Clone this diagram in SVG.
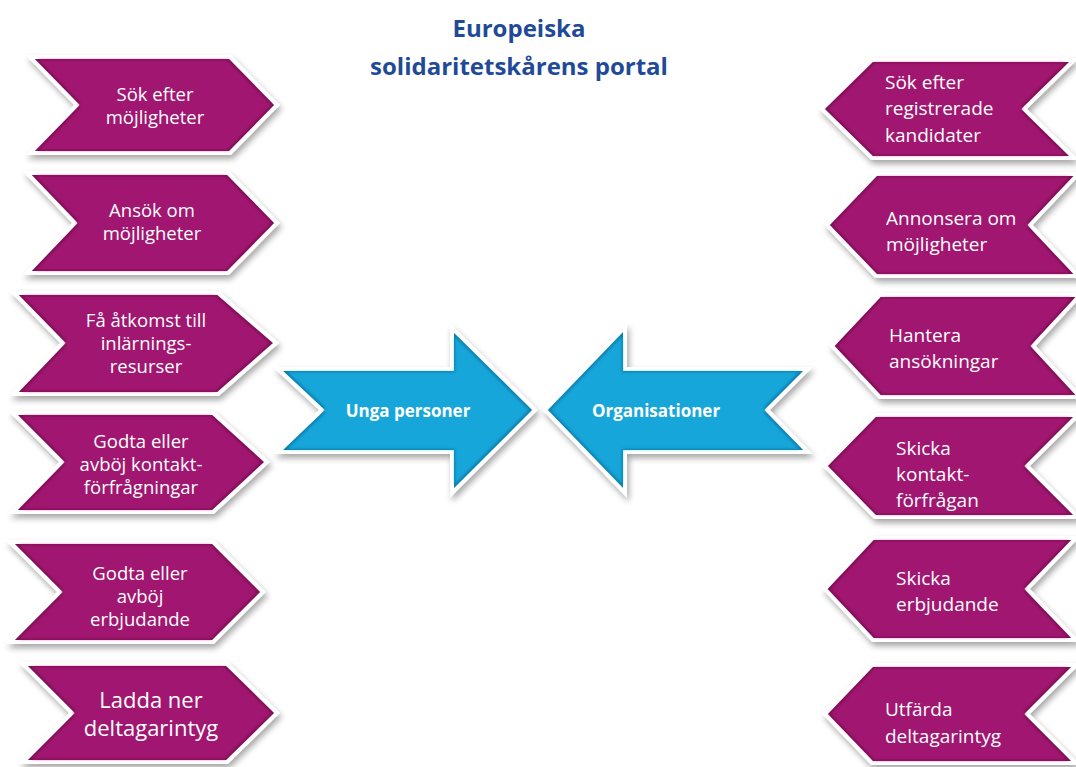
<svg xmlns="http://www.w3.org/2000/svg" width="1076" height="767" viewBox="0 0 1076 767">
<defs>
<style>
.rim-p{fill:#7f0f58;stroke:#ffffff;stroke-width:4;stroke-linejoin:miter;filter:url(#shadow)}
.face-p{fill:#a1176f;filter:url(#inset)}
.rim-b{fill:#0c7fae;stroke:#ffffff;stroke-width:4;stroke-linejoin:miter;filter:url(#shadow)}
.face-b{fill:#15a6da;filter:url(#inset)}
.lbl{font-family:"Open Sans","Liberation Sans",sans-serif;font-size:18.5px;fill:#ffffff}
.lblc{text-anchor:middle}
.rl{font-size:19px}
.big{font-size:22px}
.bl{font-family:"Open Sans","Liberation Sans",sans-serif;font-size:17px;font-weight:bold;fill:#ffffff;text-anchor:middle}
.title{font-family:"Open Sans","Liberation Sans",sans-serif;font-size:24px;font-weight:bold;fill:#1f4a97;text-anchor:middle}
</style>
<filter id="shadow" x="-15%" y="-20%" width="135%" height="150%">
<feGaussianBlur in="SourceAlpha" stdDeviation="3"/>
<feOffset dx="2" dy="4" result="o"/>
<feComponentTransfer in="o" result="s"><feFuncA type="linear" slope="0.35"/></feComponentTransfer>
<feMerge><feMergeNode in="s"/><feMergeNode in="SourceGraphic"/></feMerge>
</filter>
<filter id="inset" x="-5%" y="-5%" width="110%" height="110%">
<feMorphology in="SourceGraphic" operator="erode" radius="3" result="e"/>
<feGaussianBlur in="e" stdDeviation="1.5"/>
</filter>
</defs>
<rect width="1076" height="767" fill="#ffffff"/>

<g id="title">
<text class="title" x="519" y="37">Europeiska</text>
<text class="title" x="519" y="75">solidaritetskårens portal</text>
</g>

<g id="connectors"></g>

<g id="L1">
<polygon class="rim-p" points="30,57 230,57 277,105 230,153 30,153 77,105"/>
<polygon class="face-p" points="30,57 230,57 277,105 230,153 30,153 77,105"/>
<text class="lbl lblc" x="155" y="101">Sök efter</text>
<text class="lbl lblc" x="155" y="124">möjligheter</text>
</g>
<g id="L2">
<polygon class="rim-p" points="27,173 228,173 277,223 228,273 27,273 75,223"/>
<polygon class="face-p" points="27,173 228,173 277,223 228,273 27,273 75,223"/>
<text class="lbl lblc" x="152" y="217">Ansök om</text>
<text class="lbl lblc" x="152" y="240">möjligheter</text>
</g>
<g id="L3">
<polygon class="rim-p" points="14,293 218,293 276,343 218,394 14,394 63,343"/>
<polygon class="face-p" points="14,293 218,293 276,343 218,394 14,394 63,343"/>
<text class="lbl lblc" x="146" y="327">Få åtkomst till</text>
<text class="lbl lblc" x="146" y="350">inlärnings-</text>
<text class="lbl lblc" x="146" y="373">resurser</text>
</g>
<g id="L4">
<polygon class="rim-p" points="13,413 213,413 267,462 213,512 13,512 62,462"/>
<polygon class="face-p" points="13,413 213,413 267,462 213,512 13,512 62,462"/>
<text class="lbl lblc" x="141" y="448">Godta eller</text>
<text class="lbl lblc" x="141" y="471">avböj kontakt-</text>
<text class="lbl lblc" x="141" y="494">förfrågningar</text>
</g>
<g id="L5">
<polygon class="rim-p" points="10,542 213,542 263,592 213,642 10,642 60,592"/>
<polygon class="face-p" points="10,542 213,542 263,592 213,642 10,642 60,592"/>
<text class="lbl lblc" x="140" y="580">Godta eller</text>
<text class="lbl lblc" x="140" y="603">avböj</text>
<text class="lbl lblc" x="140" y="626">erbjudande</text>
</g>
<g id="L6">
<polygon class="rim-p" points="23,664 227,664 277,713 227,762 23,762 72,713"/>
<polygon class="face-p" points="23,664 227,664 277,713 227,762 23,762 72,713"/>
<text class="lbl lblc big" x="151" y="708">Ladda ner</text>
<text class="lbl lblc big" x="151" y="736">deltagarintyg</text>
</g>

<g id="R1">
<polygon class="rim-p" points="822,109 872,60 1074,60 1024,109 1074,158 872,158"/>
<polygon class="face-p" points="822,109 872,60 1074,60 1024,109 1074,158 872,158"/>
<text class="lbl rl" x="885" y="89">Sök efter</text>
<text class="lbl rl" x="885" y="115">registrerade</text>
<text class="lbl rl" x="885" y="142">kandidater</text>
</g>
<g id="R2">
<polygon class="rim-p" points="827,225 876,174 1078,174 1030,225 1078,276 876,276"/>
<polygon class="face-p" points="827,225 876,174 1078,174 1030,225 1078,276 876,276"/>
<text class="lbl rl" x="886" y="225">Annonsera om</text>
<text class="lbl rl" x="886" y="251">möjligheter</text>
</g>
<g id="R3">
<polygon class="rim-p" points="832,346 880,295 1080,295 1033,346 1080,397 880,397"/>
<polygon class="face-p" points="832,346 880,295 1080,295 1033,346 1080,397 880,397"/>
<text class="lbl rl" x="889" y="342">Hantera</text>
<text class="lbl rl" x="889" y="368">ansökningar</text>
</g>
<g id="R4">
<polygon class="rim-p" points="825,466 875,415 1078,415 1027,466 1078,517 875,517"/>
<polygon class="face-p" points="825,466 875,415 1078,415 1027,466 1078,517 875,517"/>
<text class="lbl rl" x="896" y="455">Skicka</text>
<text class="lbl rl" x="896" y="481">kontakt-</text>
<text class="lbl rl" x="896" y="507">förfrågan</text>
</g>
<g id="R5">
<polygon class="rim-p" points="825,589 873,538 1076,538 1027,589 1076,640 873,640"/>
<polygon class="face-p" points="825,589 873,538 1076,538 1027,589 1076,640 873,640"/>
<text class="lbl rl" x="896" y="585">Skicka</text>
<text class="lbl rl" x="896" y="611">erbjudande</text>
</g>
<g id="R6">
<polygon class="rim-p" points="825,714 872,665 1076,665 1027,714 1076,763 872,763"/>
<polygon class="face-p" points="825,714 872,665 1076,665 1027,714 1076,763 872,763"/>
<text class="lbl rl" x="885" y="716">Utfärda</text>
<text class="lbl rl" x="885" y="743">deltagarintyg</text>
</g>

<g id="unga-personer">
<polygon class="rim-b" points="278,369 452,369 452,328 535,410 452,493 452,452 278,452 322,410"/>
<polygon class="face-b" points="278,369 452,369 452,328 535,410 452,493 452,452 278,452 322,410"/>
<text class="bl" x="408" y="417">Unga personer</text>
</g>
<g id="organisationer">
<polygon class="rim-b" points="545,410 625,327 625,369 808,369 767,410 808,452 625,452 625,493"/>
<polygon class="face-b" points="545,410 625,327 625,369 808,369 767,410 808,452 625,452 625,493"/>
<text class="bl" x="656" y="417">Organisationer</text>
</g>
</svg>
